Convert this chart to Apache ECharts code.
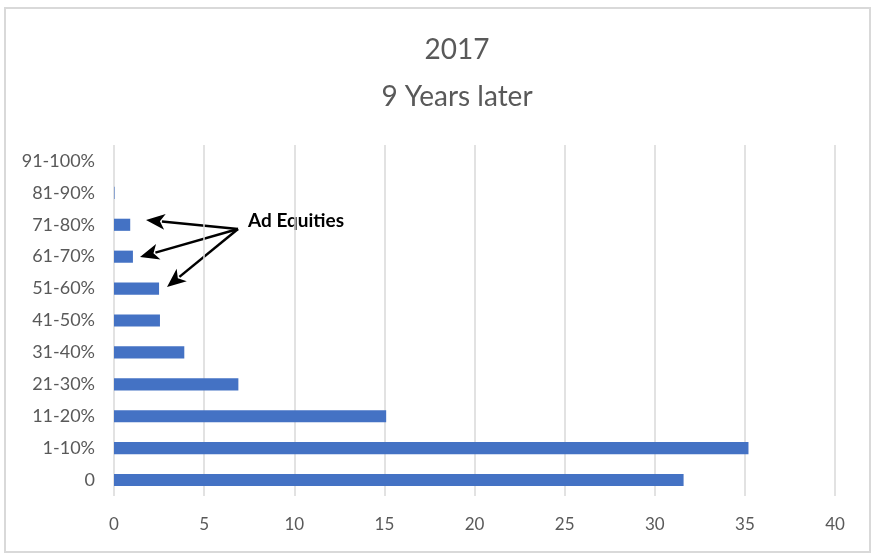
<!DOCTYPE html>
<html><head><meta charset="utf-8">
<script src="https://cdn.jsdelivr.net/npm/echarts@6/dist/echarts.min.js"></script>
<style>html,body{margin:0;padding:0;background:#fff}#c{width:877px;height:558px}</style>
</head><body><div id="c"></div>
<script>
const categories = ['0','1-10%','11-20%','21-30%','31-40%','41-50%','51-60%','61-70%','71-80%','81-90%','91-100%'];
const values = [31.6, 35.2, 15.1, 6.9, 3.9, 2.55, 2.5, 1.05, 0.9, 0.03, 0];
const xTicks = [0,5,10,15,20,25,30,35,40];
const titleLines = ['2017','9 Years later'];
const annotation = 'Ad Equities';

const chart = echarts.init(document.getElementById('c'));
const font = 'Lato, "Open Sans", sans-serif';

function arrow(x1,y1,x2,y2){
  const dx=x2-x1, dy=y2-y1, L=Math.hypot(dx,dy), ux=dx/L, uy=dy/L;
  const hl=19, hw=8;
  const bx=x2-ux*hl, by=y2-uy*hl;
  return [
    {type:'line',shape:{x1:x1,y1:y1,x2:bx+ux*3,y2:by+uy*3},style:{stroke:'#000',lineWidth:2.5}},
    {type:'polygon',shape:{points:[[x2,y2],[bx-uy*hw,by+ux*hw],[bx+ux*5,by+uy*5],[bx+uy*hw,by-ux*hw]]},style:{fill:'#000'}}
  ];
}

chart.setOption({
  animation:false,
  backgroundColor:'#fff',
  title:{text:titleLines.join('\n'),left:452,top:21,textAlign:'center',
    textStyle:{fontFamily:font,fontSize:28,fontWeight:'normal',color:'#595959',lineHeight:47}},
  grid:{left:114,right:42,top:145,bottom:62,containLabel:false},
  xAxis:{type:'value',min:0,max:40,interval:5,
    axisLine:{show:false},axisTick:{show:false},
    axisLabel:{fontFamily:font,fontSize:17,color:'#595959',margin:20},
    splitLine:{lineStyle:{color:'#d9d9d9',width:1.5}}},
  yAxis:{type:'category',data:categories,
    axisLine:{show:false},axisTick:{show:false},
    axisLabel:{fontFamily:font,fontSize:18,color:'#595959',margin:19}},
  series:[{type:'bar',data:values,barWidth:'38%',itemStyle:{color:'#4472C4'}}],
  graphic:[
    {type:'rect',shape:{x:5,y:8,width:865,height:544},style:{fill:null,stroke:'#d9d9d9',lineWidth:2},silent:true},
    {type:'text',left:248,top:211,style:{text:annotation,fontFamily:font,fontSize:19,fontWeight:'bold',fill:'#000'}}
  ].concat(arrow(238,229,146,220), arrow(238,229,140,257), arrow(238,229,167,287))
});
</script></body></html>
